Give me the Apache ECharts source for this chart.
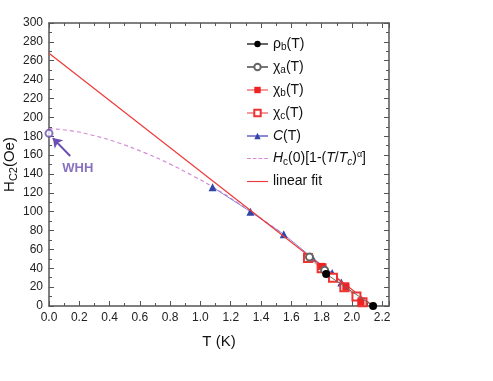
<!DOCTYPE html>
<html><head><meta charset="utf-8">
<script src="https://cdn.jsdelivr.net/npm/echarts@6/dist/echarts.min.js"></script>
<style>html,body{margin:0;padding:0;background:#fff}#c{width:493px;height:381px}</style>
</head><body><div id="c"></div>
<script>
// ---- data ----
const rhoB   = [[1.83, 34], [2.14, 0]];
const chiA   = [[1.72, 52], [1.82, 38]];
const chiB   = [[1.80, 42], [1.96, 20], [2.06, 4]];
const chiC   = [[1.71, 51], [1.80, 40], [1.875, 30], [1.95, 20], [2.03, 10], [2.07, 4]];
const cT     = [[1.08, 126], [1.33, 100], [1.55, 76], [1.74, 51], [1.87, 35], [1.93, 25]];
const hcFit  = [[0, 188], [0.15, 185.6], [0.3, 180.5], [0.45, 173.4], [0.63, 162.6], [0.8, 150.4],
                [0.96, 137.1], [1.08, 126.3], [1.33, 100.5], [1.55, 75.8]];
const linFit = [[0, 268], [2.14, 0]];
const whh    = [[0, 183]];
const whhArrow = [[0.14, 159], [0.025, 178]];
const whhLabelPos = [0.19, 146];
const xTicks = {min: 0, max: 2.245, interval: 0.2};
const yTicks = {min: 0, max: 300, interval: 20};

const F = 'Liberation Sans, Arial, Helvetica, sans-serif';
const axisCol = '#555';
const rich = {
  n: {fontSize: 14, fontFamily: F, color: '#111'},
  i: {fontSize: 14, fontFamily: F, color: '#111', fontStyle: 'italic'},
  s: {fontSize: 10, fontFamily: F, color: '#111', padding: [7, 0, 0, 0]},
  si: {fontSize: 10, fontFamily: F, color: '#111', fontStyle: 'italic', padding: [7, 0, 0, 0]},
  sup: {fontSize: 9, fontFamily: F, color: '#111', padding: [0, 0, 7, 0]}
};
const names = {
  'rho': '{n|ρ}{s|b}{n|(T)}',
  'chia': '{n|χ}{s|a}{n|(T)}',
  'chib': '{n|χ}{s|b}{n|(T)}',
  'chic': '{n|χ}{s|c}{n|(T)}',
  'C': '{i|C}{n|(T)}',
  'hc': '{i|H}{s|c}{n|(0)[1-(}{i|T}{n|/}{i|T}{si|c}{n|)}{sup|α}{n|]}',
  'lin': '{n|linear fit}'
};

function axisCommon(show) {
  return {
    axisLine: {show: true, onZero: false, lineStyle: {color: axisCol, width: 1.5}},
    axisTick: {show: true, inside: true, length: 5, lineStyle: {color: axisCol, width: 1}},
    minorTick: {show: true, splitNumber: 2, length: 3, lineStyle: {color: axisCol, width: 1}},
    splitLine: {show: false},
    axisLabel: {show: show, color: '#222', fontSize: 12, fontFamily: F, margin: 6}
  };
}

const chart = echarts.init(document.getElementById('c'), null, {renderer: 'canvas'});
chart.setOption({
  animation: false,
  backgroundColor: '#fff',
  grid: {left: 49, top: 23, right: 104, bottom: 75, outerBoundsMode: 'none', containLabel: false},
  xAxis: [
    Object.assign({type: 'value', position: 'bottom', min: xTicks.min, max: xTicks.max, interval: xTicks.interval,
      name: 'T (K)', nameLocation: 'middle', nameGap: 28, nameMoveOverlap: false,
      nameTextStyle: {fontSize: 15, fontFamily: F, color: '#111'}}, axisCommon(true),
      {axisLabel: {show: true, color: '#222', fontSize: 12, fontFamily: F, margin: 6, showMaxLabel: false, formatter: v => v.toFixed(1)}}),
    Object.assign({type: 'value', position: 'top', min: xTicks.min, max: xTicks.max, interval: xTicks.interval}, axisCommon(false))
  ],
  yAxis: [
    Object.assign({type: 'value', position: 'left', min: yTicks.min, max: yTicks.max, interval: yTicks.interval,
      name: '{n|H}{s|C2}{n|(Oe)}', nameLocation: 'middle', nameGap: 30, nameMoveOverlap: false,
      nameTextStyle: {rich: {
        n: {fontSize: 15, fontFamily: F, color: '#111'},
        s: {fontSize: 11, fontFamily: F, color: '#111', padding: [8, 0, 0, 0]}
      }}}, axisCommon(true)),
    Object.assign({type: 'value', position: 'right', min: yTicks.min, max: yTicks.max, interval: yTicks.interval}, axisCommon(false))
  ],
  legend: {
    left: 241, top: 32, orient: 'vertical', itemGap: 7.5, itemWidth: 21, itemHeight: 8,
    data: ['rho', 'chia', 'chib', 'chic', 'C',
      {name: 'hc', icon: 'path://M0,0h4v1.2h-4zM6,0h4v1.2h-4zM12,0h4v1.2h-4zM18,0h4v1.2h-4z'},
      {name: 'lin', icon: 'path://M0,0L22,0L22,1.2L0,1.2Z'}],
    symbolKeepAspect: true,
    formatter: n => names[n],
    textStyle: {rich: rich, fontSize: 14, fontFamily: F}
  },
  series: [
    {name: 'lin', type: 'line', data: linFit, symbol: 'none', z: 5,
      lineStyle: {color: '#ee3b3b', width: 1.2}, itemStyle: {color: '#ee3b3b'}},
    {name: 'hc', type: 'line', data: hcFit, symbol: 'none', smooth: true, z: 3,
      lineStyle: {color: '#d58ad5', width: 1.2, type: [4, 3]}, itemStyle: {color: '#d58ad5'}},
    {name: 'C', type: 'line', data: cT, symbol: 'triangle', symbolSize: 8, z: 4,
      lineStyle: {color: '#8a8ad8', width: 1}, itemStyle: {color: '#3146a8'}},
    {name: 'chic', type: 'line', data: chiC, symbol: 'emptyRect', symbolSize: 8, z: 6,
      lineStyle: {color: '#f59a9a', width: 1}, itemStyle: {color: '#ee3333', borderWidth: 1.3}},
    {name: 'chib', type: 'line', data: chiB, symbol: 'rect', symbolSize: 7, z: 6,
      lineStyle: {color: '#f59a9a', width: 1}, itemStyle: {color: '#ee2222'}},
    {name: 'chia', type: 'line', data: chiA, symbol: 'emptyCircle', symbolSize: 7, z: 6,
      lineStyle: {color: '#777', width: 1}, itemStyle: {color: '#666', borderWidth: 1}},
    {name: 'rho', type: 'line', data: rhoB, symbol: 'circle', symbolSize: 8, z: 7,
      lineStyle: {color: '#666', width: 1}, itemStyle: {color: '#000'}},
    {name: 'whh', type: 'scatter', data: whh, symbol: 'emptyCircle', symbolSize: 7, z: 8,
      itemStyle: {color: '#6a4fb0', borderWidth: 1.5},
      markLine: {silent: true, symbol: ['none', 'arrow'], symbolSize: 9,
        lineStyle: {color: '#6a4fb0', width: 2, type: 'solid'}, label: {show: false},
        data: [[{coord: whhArrow[0]}, {coord: whhArrow[1]}]]}},
    {name: 'whhLabel', type: 'scatter', data: [whhLabelPos], symbolSize: 0, z: 8,
      label: {show: true, position: 'inside', formatter: 'WHH', color: '#6a4fb0',
        fontSize: 13, fontWeight: 'bold', fontFamily: F}}
  ]
});
</script></body></html>
